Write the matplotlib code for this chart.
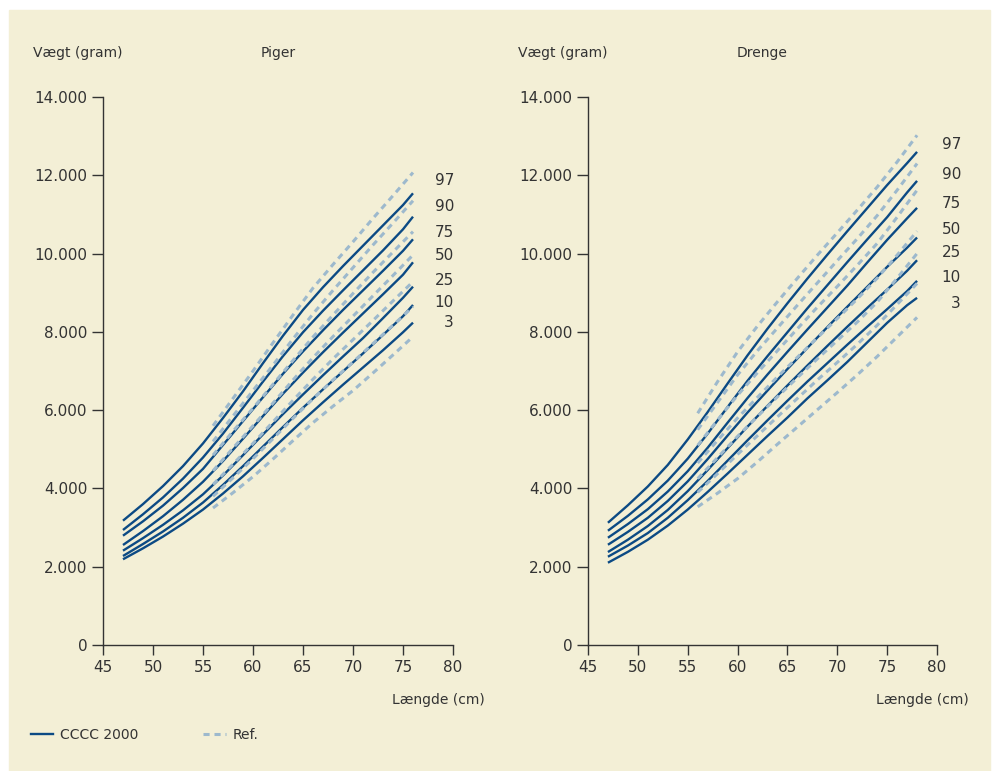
import matplotlib
matplotlib.use("Agg")
import matplotlib.pyplot as plt
from matplotlib.patches import Rectangle
from matplotlib.lines import Line2D

# ==============================
# Data: weight (g) by length (cm)
# ==============================
percentiles = ["97", "90", "75", "50", "25", "10", "3"]

# Girls, CCCC 2000
piger_len = [47, 49, 51, 53, 55, 57, 59, 61, 63, 65, 67, 69, 71, 73, 75, 76]
piger_cccc = {
    "97": [3176, 3600, 4060, 4570, 5150, 5800, 6480, 7200, 7900, 8560, 9140, 9680, 10200, 10720, 11240, 11540],
    "90": [2938, 3340, 3770, 4250, 4790, 5400, 6060, 6730, 7380, 7990, 8540, 9060, 9570, 10080, 10620, 10943],
    "75": [2793, 3160, 3560, 4010, 4500, 5110, 5720, 6330, 6930, 7500, 8040, 8560, 9060, 9560, 10070, 10365],
    "50": [2555, 2910, 3290, 3710, 4170, 4700, 5270, 5850, 6420, 6960, 7480, 7980, 8470, 8960, 9460, 9777],
    "25": [2410, 2730, 3070, 3440, 3850, 4330, 4850, 5380, 5900, 6400, 6890, 7370, 7840, 8350, 8870, 9155],
    "10": [2274, 2580, 2900, 3250, 3640, 4090, 4570, 5070, 5570, 6060, 6530, 6990, 7450, 7920, 8400, 8687],
    "3":  [2190, 2470, 2770, 3100, 3460, 3870, 4310, 4780, 5260, 5740, 6200, 6650, 7090, 7530, 7990, 8235],
}

# Girls, reference
piger_ref_len = [56, 58, 60, 62, 64, 66, 68, 70, 72, 74, 76]
piger_ref = {
    "97": [5600, 6300, 7000, 7720, 8430, 9120, 9720, 10300, 10900, 11480, 12070],
    "90": [5200, 5850, 6500, 7150, 7820, 8460, 9060, 9640, 10220, 10780, 11350],
    "75": [4850, 5460, 6050, 6660, 7270, 7870, 8430, 8980, 9520, 10040, 10560],
    "50": [4450, 5030, 5600, 6180, 6770, 7340, 7880, 8400, 8920, 9440, 9964],
    "25": [4100, 4620, 5150, 5700, 6250, 6790, 7310, 7800, 8290, 8790, 9282],
    "10": [3800, 4270, 4760, 5270, 5790, 6290, 6770, 7230, 7700, 8170, 8643],
    "3":  [3500, 3890, 4300, 4750, 5220, 5680, 6100, 6500, 6950, 7410, 7877],
}

# Boys, CCCC 2000
drenge_len = [47, 49, 51, 53, 55, 57, 59, 61, 63, 65, 67, 69, 71, 73, 75, 77, 78]
drenge_cccc = {
    "97": [3123, 3570, 4050, 4600, 5250, 5950, 6680, 7400, 8080, 8730, 9360, 9970, 10570, 11160, 11750, 12310, 12598],
    "90": [2919, 3300, 3720, 4200, 4760, 5400, 6080, 6750, 7380, 7990, 8600, 9190, 9780, 10360, 10930, 11560, 11857],
    "75": [2740, 3090, 3470, 3920, 4440, 5040, 5680, 6310, 6910, 7490, 8060, 8620, 9180, 9770, 10350, 10900, 11168],
    "50": [2561, 2890, 3250, 3680, 4180, 4750, 5350, 5940, 6500, 7050, 7590, 8120, 8640, 9150, 9660, 10150, 10410],
    "25": [2375, 2690, 3040, 3450, 3930, 4470, 5030, 5580, 6110, 6630, 7140, 7640, 8130, 8610, 9080, 9560, 9830],
    "10": [2255, 2540, 2860, 3250, 3700, 4190, 4710, 5230, 5740, 6240, 6730, 7200, 7670, 8130, 8580, 9040, 9303],
    "3":  [2102, 2380, 2690, 3050, 3460, 3910, 4380, 4860, 5340, 5810, 6300, 6760, 7230, 7730, 8230, 8680, 8869],
}

# Boys, reference
drenge_ref_len = [56, 58, 60, 62, 64, 66, 68, 70, 72, 74, 76, 78]
drenge_ref = {
    "97": [5920, 6730, 7490, 8150, 8770, 9370, 9960, 10530, 11110, 11700, 12340, 13023],
    "90": [5500, 6200, 6900, 7520, 8100, 8680, 9250, 9820, 10380, 10970, 11620, 12300],
    "75": [5100, 5750, 6380, 6960, 7520, 8080, 8630, 9160, 9700, 10260, 10930, 11620],
    "50": [4650, 5230, 5800, 6330, 6850, 7350, 7850, 8340, 8840, 9370, 9960, 10572],
    "25": [4250, 4790, 5330, 5840, 6340, 6830, 7310, 7780, 8250, 8760, 9370, 10003],
    "10": [3900, 4380, 4870, 5350, 5830, 6300, 6770, 7220, 7680, 8170, 8700, 9237],
    "3":  [3530, 3880, 4250, 4680, 5130, 5570, 6010, 6450, 6900, 7370, 7870, 8369],
}

# label positions for the percentile numbers (gram)
piger_lbl_y = [11855, 11190, 10550, 9940, 9300, 8740, 8230]
drenge_lbl_y = [12775, 12008, 11268, 10603, 10015, 9377, 8713]

yticks = [0, 2000, 4000, 6000, 8000, 10000, 12000, 14000]
ytick_labels = ["0", "2.000", "4.000", "6.000", "8.000", "10.000", "12.000", "14.000"]
xticks = [45, 50, 55, 60, 65, 70, 75, 80]

SOLID = "#0c4a84"
DASH = "#9db9cd"
TXT = "#333333"
BG = "#f3efd6"

plt.rcParams["font.family"] = "DejaVu Sans"
fig = plt.figure(figsize=(9.96, 7.71), dpi=100, facecolor="white")
fig.patches.append(Rectangle((9 / 996, 0), 981 / 996, 761 / 771,
                             transform=fig.transFigure, color=BG, zorder=-10))


def draw_panel(ax, lens, cccc, ref_lens, ref, title, lbl_x, lbl_y):
    for p in percentiles:
        ax.plot(lens, cccc[p], color=SOLID, lw=1.7, zorder=3,
                solid_capstyle="butt", solid_joinstyle="round")
    for p in percentiles:
        ax.plot(ref_lens, ref[p], color=DASH, lw=2.2, zorder=4,
                linestyle=(0, (2, 1.6)))
    for p, y in zip(percentiles, lbl_y):
        ax.text(lbl_x, y, p, ha="right", va="center", fontsize=11,
                color=TXT, clip_on=False)
    ax.set_xlim(45, 80)
    ax.set_ylim(0, 14000)
    ax.set_xticks(xticks)
    ax.set_yticks(yticks)
    ax.set_yticklabels(ytick_labels)
    ax.set_facecolor("none")
    for s in ["top", "right"]:
        ax.spines[s].set_visible(False)
    for s in ["left", "bottom"]:
        ax.spines[s].set_color(TXT)
        ax.spines[s].set_linewidth(1.0)
    ax.tick_params(axis="y", length=8, width=1.0, pad=3, color=TXT,
                   labelcolor=TXT, labelsize=11)
    ax.tick_params(axis="x", length=7, width=1.0, pad=4, color=TXT,
                   labelcolor=TXT, labelsize=11)
    ax.text(-0.2, 1.08, "Vægt (gram)", transform=ax.transAxes, ha="left",
            va="center", fontsize=10, color=TXT)
    ax.text(0.5, 1.08, title, transform=ax.transAxes, ha="center",
            va="center", fontsize=10, color=TXT)
    ax.text(1.09, -0.1, "Længde (cm)", transform=ax.transAxes, ha="right",
            va="center", fontsize=10, color=TXT)


ax1 = fig.add_axes([103 / 996, 1 - 645 / 771, 350 / 996, 548 / 771])
draw_panel(ax1, piger_len, piger_cccc, piger_ref_len, piger_ref,
           "Piger", 80.1, piger_lbl_y)

ax2 = fig.add_axes([588 / 996, 1 - 645 / 771, 349 / 996, 548 / 771])
draw_panel(ax2, drenge_len, drenge_cccc, drenge_ref_len, drenge_ref,
           "Drenge", 82.4, drenge_lbl_y)

handles = [Line2D([], [], color=SOLID, lw=1.7),
           Line2D([], [], color=DASH, lw=2.2, linestyle=(0, (2, 1.6)))]
leg = fig.legend(handles, ["CCCC 2000", "Ref."], loc="center left",
                 bbox_to_anchor=(18 / 996, 1 - 735 / 771), ncol=2,
                 frameon=False, fontsize=10, handlelength=1.6,
                 columnspacing=4.7, handletextpad=0.5)
for t in leg.get_texts():
    t.set_color(TXT)

fig.savefig("out.png", dpi=100)
